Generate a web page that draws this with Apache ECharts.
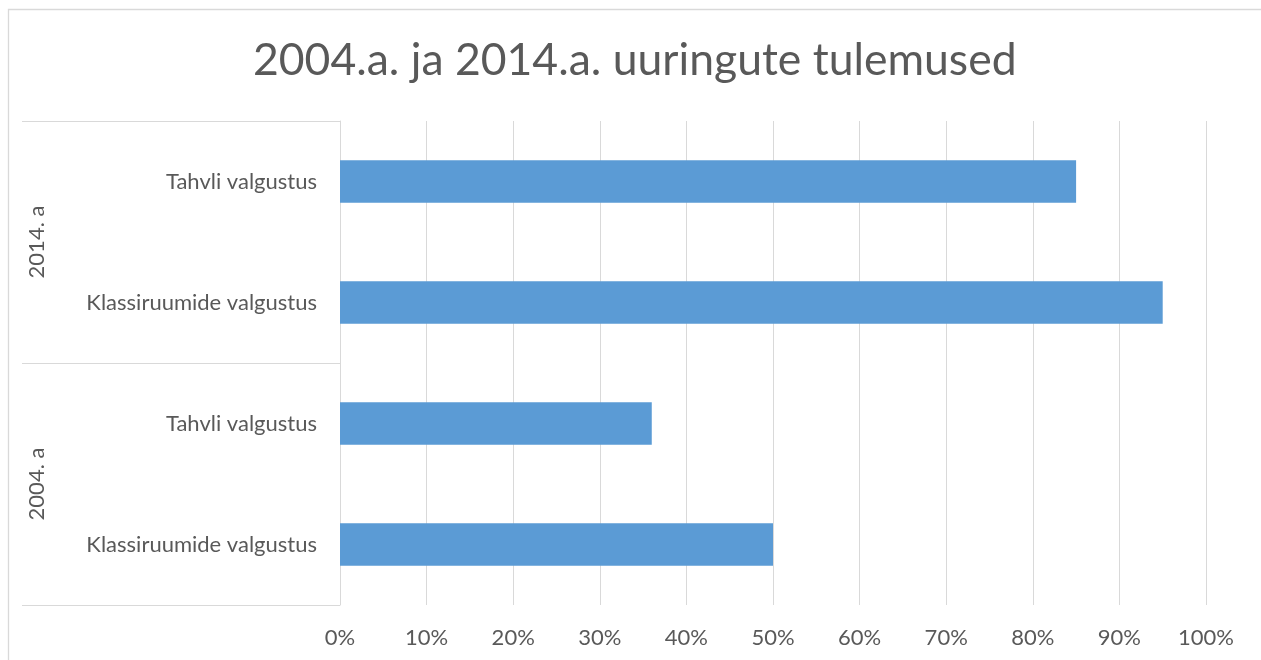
<!DOCTYPE html>
<html>
<head>
<meta charset="utf-8">
<script src="https://cdn.jsdelivr.net/npm/echarts@6/dist/echarts.min.js"></script>
<style>html,body{margin:0;padding:0;background:#fff}#c{width:1261px;height:660px}</style>
</head>
<body>
<div id="c"></div>
<script>
var titleText = '2004.a. ja 2014.a. uuringute tulemused';
var categories = ['Klassiruumide valgustus', 'Tahvli valgustus', 'Klassiruumide valgustus', 'Tahvli valgustus'];
var groups = ['2004. a', '2014. a'];
var values = [0.50, 0.36, 0.95, 0.85];
var xTicks = [0, 0.1, 0.2, 0.3, 0.4, 0.5, 0.6, 0.7, 0.8, 0.9, 1.0];

var FONT = 'Lato';
var TXT = '#595959';
var GRID = '#D9D9D9';

var chart = echarts.init(document.getElementById('c'), null, {renderer: 'canvas'});
chart.setOption({
  animation: false,
  backgroundColor: '#fff',
  title: {
    text: titleText, left: 248, top: 33,
    textStyle: {fontFamily: FONT, fontSize: 44.5, fontWeight: 'normal', color: TXT}
  },
  graphic: [{
    type: 'rect', silent: true,
    shape: {x: 8.5, y: 9.5, width: 1300, height: 700},
    style: {fill: 'none', stroke: GRID, lineWidth: 1.3}
  }],
  grid: {left: 340, right: 55, top: 121, bottom: 55, containLabel: false},
  xAxis: {
    type: 'value', min: xTicks[0], max: xTicks[xTicks.length - 1], interval: 0.1,
    axisLine: {show: false}, axisTick: {show: false},
    splitLine: {lineStyle: {color: GRID, width: 1}},
    axisLabel: {
      fontFamily: FONT, fontSize: 22, color: TXT, margin: 22,
      formatter: function (v) { return Math.round(v * 100) + '%'; }
    }
  },
  yAxis: [{
    type: 'category', data: categories, position: 'left',
    axisLine: {show: true, lineStyle: {color: GRID, width: 1}},
    axisTick: {show: false},
    axisLabel: {fontFamily: FONT, fontSize: 22, color: TXT, margin: 23}
  }, {
    type: 'category', data: groups, position: 'left',
    axisLine: {show: false},
    axisTick: {show: true, length: 318, lineStyle: {color: GRID, width: 1}},
    axisLabel: {fontFamily: FONT, fontSize: 22, color: TXT, rotate: 90, margin: 292}
  }],
  series: [{
    type: 'bar', yAxisIndex: 0, data: values, barWidth: '35%',
    itemStyle: {color: '#5B9BD5'}
  }]
});
</script>
</body>
</html>
